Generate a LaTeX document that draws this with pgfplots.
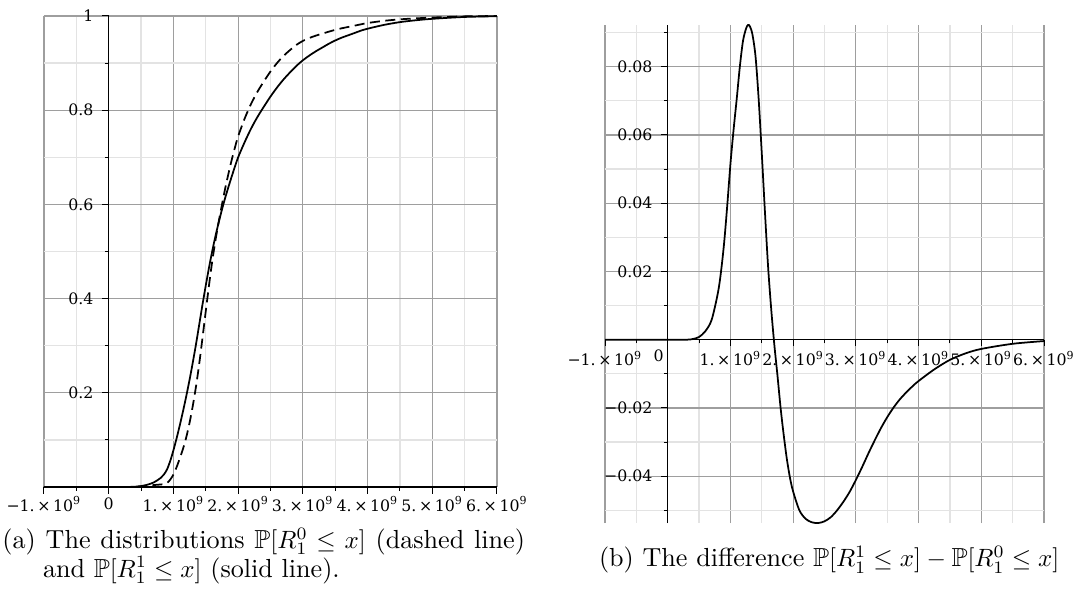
\documentclass[border=0pt]{standalone}
\usepackage{fontspec}
\usepackage{amssymb}
\usepackage{pgfplots}
\pgfplotsset{compat=1.18}
\usepackage{pgfplotstable}
\newfontfamily\dvs{DejaVu Serif}
\newcommand\tf{\dvs\fontsize{6.3}{7.5}\selectfont}
\newcommand\ex[1]{#1.\,×\,10\textsuperscript{9}}

\pgfplotstableread{
x F1 F0
-1 0 0
0 0 0
0.3 0.0002 0.0002
0.4 0.0006 0.0004
0.5 0.002 0.0012
0.6 0.005 0.0025
0.7 0.010 0.0042
0.8 0.019 0.0053
0.85 0.026 0.006
0.9 0.037 0.0085
0.95 0.055 0.0155
1.0 0.078 0.0265
1.05 0.104 0.0425
1.1 0.132 0.0615
1.15 0.162 0.082
1.2 0.194 0.1065
1.25 0.228 0.1368
1.3 0.265 0.173
1.35 0.304 0.2145
1.4 0.346 0.263
1.45 0.388 0.3175
1.5 0.428 0.3735
1.55 0.466 0.4285
1.6 0.501 0.4795
1.65 0.533 0.524
1.7 0.562 0.5635
1.75 0.589 0.5995
1.8 0.614 0.634
1.85 0.637 0.665
1.9 0.659 0.694
1.95 0.680 0.7205
2.0 0.700 0.7445
2.1 0.732 0.782
2.2 0.761 0.8135
2.3 0.786 0.8395
2.4 0.808 0.8617
2.5 0.829 0.8822
2.6 0.848 0.900
2.7 0.865 0.915
2.8 0.880 0.9275
2.9 0.894 0.9386
3.0 0.906 0.9471
3.1 0.916 0.9533
3.2 0.925 0.9583
3.3 0.933 0.9625
3.4 0.941 0.9667
3.5 0.948 0.9706
3.6 0.954 0.9739
3.7 0.959 0.9767
3.8 0.964 0.9795
3.9 0.969 0.9824
4.0 0.973 0.9851
4.25 0.981 0.9897
4.5 0.987 0.9929
4.75 0.991 0.995
5.0 0.994 0.9967
5.5 0.998 0.9992
6.0 0.9995 0.9999
}\cdf

\pgfplotstableread{
x D
-1 0
0 0
0.3 0
0.4 0.0002
0.5 0.0008
0.6 0.0025
0.7 0.0058
0.8 0.0137
0.85 0.0200
0.9 0.0285
0.95 0.0395
1.0 0.0515
1.05 0.0615
1.1 0.0705
1.15 0.0800
1.2 0.0875
1.25 0.0912
1.28 0.0922
1.31 0.0918
1.35 0.0895
1.4 0.0830
1.45 0.0705
1.5 0.0545
1.55 0.0375
1.6 0.0215
1.65 0.0090
1.7 -0.0015
1.75 -0.0105
1.8 -0.0200
1.85 -0.0280
1.9 -0.0350
1.95 -0.0405
2.0 -0.0445
2.1 -0.0500
2.2 -0.0525
2.3 -0.0535
2.4 -0.0537
2.5 -0.0532
2.6 -0.0520
2.7 -0.0500
2.8 -0.0475
2.9 -0.0446
3.0 -0.0411
3.1 -0.0373
3.2 -0.0333
3.3 -0.0295
3.4 -0.0259
3.5 -0.0227
3.6 -0.0199
3.7 -0.0175
3.8 -0.0155
3.9 -0.0137
4.0 -0.0121
4.25 -0.0087
4.5 -0.0059
4.75 -0.0040
5.0 -0.0027
5.5 -0.0012
6.0 -0.0004
}\diff

\pgfplotsset{
  mystyle/.style={
    scale only axis,
    axis lines=middle,
    axis line style={-, black, line width=0.45pt},
    grid=both,
    major grid style={draw=black!38, line width=0.5pt},
    minor grid style={draw=black!11, line width=0.5pt},
    tick align=outside,
    major tick length=2.6pt,
    minor tick length=1.5pt,
    tick style={black, line width=0.4pt},
    every tick label/.append style={font=\tf, text=black},
    scaled x ticks=false, scaled y ticks=false,
    xmin=-1, xmax=6,
    xtick={-1,0,...,6},
    minor xtick={-0.5,0.5,...,5.5},
    hide obscured x ticks=false,
    clip=false,
  }
}

\begin{document}
\begin{tikzpicture}
\path[use as bounding box] (0,0) rectangle (430pt,238.4pt);

\begin{axis}[mystyle,
  at={(17.6pt,43.6pt)}, anchor=south west,
  width=181.2pt, height=188.4pt,
  ymin=0, ymax=1,
  ytick={0.2,0.4,0.6,0.8,1},
  yticklabels={0.2,0.4,0.6,0.8,1},
  minor ytick={0.1,0.3,0.5,0.7,0.9},
  xticklabels={{\ex{−1}},0,{\ex{1}},{\ex{2}},{\ex{3}},{\ex{4}},{\ex{5}},{\ex{6}}},
  xticklabel style={anchor=center, yshift=-4.2pt},
]
\addplot[black, line width=0.7pt, dash pattern=on 4pt off 2.2pt, smooth] table[x=x, y=F0] {\cdf};
\addplot[black, line width=0.7pt, smooth] table[x=x, y=F1] {\cdf};
\end{axis}

\begin{axis}[mystyle,
  at={(242pt,29.2pt)}, anchor=south west,
  width=175.6pt, height=199.2pt,
  ymin=-0.0537, ymax=0.0922,
  ytick={-0.04,-0.02,0.02,0.04,0.06,0.08},
  yticklabels={−0.04,−0.02,0.02,0.04,0.06,0.08},
  minor ytick={-0.05,-0.03,-0.01,0.01,0.03,0.05,0.07,0.09},
  xticklabels={{\ex{−1}},{},{\ex{1}},{\ex{2}},{\ex{3}},{\ex{4}},{\ex{5}},{\ex{6}}},
  xticklabel style={anchor=center, yshift=-4.9pt},
]
\addplot[black, line width=0.7pt, smooth] table[x=x, y=D] {\diff};
\node[font=\tf, anchor=center, xshift=-3.6pt, yshift=-6.6pt] at (axis cs:0,0) {0};
\end{axis}

\begin{scope}[font=\fontsize{10.45}{12.5}\selectfont]
\node[anchor=base west, inner sep=0pt] at (0.8pt,19pt) {\makebox[209pt][s]{(a) The distributions $\mathbb{P}[R_1^0 \le x]$ (dashed line)}};
\node[anchor=base west, inner sep=0pt] at (17pt,7.6pt) {and $\mathbb{P}[R_1^1 \le x]$ (solid line).};
\node[anchor=base west, inner sep=0pt] at (239.4pt,11.7pt) {(b) The difference $\mathbb{P}[R_1^1 \le x] - \mathbb{P}[R_1^0 \le x]$};
\end{scope}
\end{tikzpicture}
\end{document}
